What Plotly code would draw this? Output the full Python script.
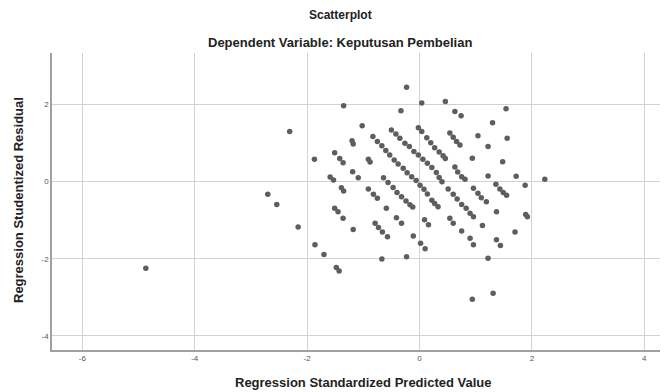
import plotly.graph_objects as go

# Regression Standardized Predicted Value (x) and Studentized Residual (y)
pred_x = [
    -4.87, -2.31, -2.70, -2.54, -2.16, -1.86, -1.70, -1.48, -1.43, -1.87,
    -1.59, -1.53, -1.39, -1.35, -1.35, -1.51, -1.42, -1.36, -1.20, -1.18,
    -1.02, -0.91, -0.88, -1.19, -1.09, -0.91, -0.82, -0.75, -1.51, -1.45,
    -1.36, -1.18, -0.79, -0.73, -0.66, -0.57, -0.59, -0.41, -0.32, -0.67,
    -0.23, -0.11, 0.02, 0.10, 0.09, 0.16, -0.23, 0.04, -0.33, 0.46,
    0.63, 0.74, 1.54, 1.30,
    # diagonal 1
    -0.50, -0.42, -0.35, -0.26, -0.18, -0.10, -0.02, 0.06, 0.14, 0.22, 0.30, 0.35, 0.40,
    # diagonal 2
    -0.83, -0.75, -0.67, -0.60, -0.53, -0.45, -0.38, -0.29, -0.22, -0.14, -0.06, 0.01,
    0.08, 0.14, 0.22, 0.27, 0.33,
    # diagonal 3
    -0.64, -0.56, -0.47, -0.40, -0.32, -0.24, -0.17, -0.12,
    # diagonal 4
    -0.02, 0.04, 0.13, 0.20, 0.27, 0.35, 0.42, 0.46,
    # diagonal 5
    0.54, 0.60, 0.66, 0.72,
    # diagonal 6
    0.63, 0.68, 0.75, 0.81,
    1.04, 1.56, 1.22, 0.94, 1.48, 1.22, 1.72, 1.88, 2.23,
    # diagonal 7
    0.51, 0.60, 0.67, 0.75, 0.83, 0.90, 0.96,
    # diagonal 8
    0.96, 1.04, 1.10, 1.19,
    # diagonal 9
    1.36, 1.43, 1.49, 1.55,
    1.37, 1.89, 1.92, 0.54, 0.60, 0.75, 1.12, 1.70, 0.90, 0.96,
    1.37, 1.44, 1.22, 0.94, 1.31,
]
resid_y = [
    -2.25, 1.30, -0.33, -0.59, -1.18, -1.64, -1.89, -2.23, -2.32, 0.58,
    0.12, 0.04, -0.16, -0.24, 1.97, 0.75, 0.60, 0.49, 1.06, 0.98,
    1.45, 0.58, 0.51, 0.26, 0.10, -0.19, -0.33, -0.43, -0.69, -0.78,
    -0.95, -1.24, -1.08, -1.19, -1.31, -1.43, -0.69, -0.94, -1.08, -2.01,
    -1.95, -1.41, -1.60, -1.74, -0.99, -1.12, 2.45, 2.04, 1.84, 2.08,
    1.82, 1.71, 1.89, 1.53,
    1.34, 1.24, 1.13, 1.00, 0.91, 0.78, 0.69, 0.58, 0.48, 0.37, 0.24, 0.11, 0.00,
    1.17, 1.04, 0.93, 0.81, 0.69, 0.56, 0.46, 0.35, 0.23, 0.13, 0.03, -0.09,
    -0.20, -0.32, -0.48, -0.57, -0.65,
    0.10, -0.02, -0.15, -0.28, -0.39, -0.50, -0.60, -0.66,
    1.40, 1.30, 1.14, 1.01, 0.88, 0.77, 0.67, 0.60,
    1.26, 1.15, 1.04, 0.95,
    0.38, 0.25, 0.13, 0.06,
    1.19, 1.13, 0.91, 0.61, 0.52, 0.15, 0.14, -0.09, 0.06,
    -0.19, -0.33, -0.45, -0.59, -0.69, -0.82, -0.91,
    -0.17, -0.30, -0.42, -0.52,
    -0.07, -0.19, -0.28, -0.35,
    -0.78, -0.85, -0.91, -0.95, -1.08, -1.28, -1.14, -1.31, -1.47, -1.64,
    -1.51, -1.66, -1.99, -3.05, -2.90,
]

x_ticks = [-6, -4, -2, 0, 2, 4]
y_ticks = [-4, -2, 0, 2]

title_text = "Scatterplot"
subtitle_text = "Dependent Variable: Keputusan Pembelian"
x_title = "Regression Standardized Predicted Value"
y_title = "Regression Studentized Residual"

FONT = "Liberation Sans, Arial, sans-serif"

W, H = 664, 392
L, R, T, B = 52, 4, 53, 42
PW, PH = W - L - R, H - T - B

fig = go.Figure(
    go.Scatter(
        x=pred_x, y=resid_y, mode="markers",
        marker=dict(color="#5e5e5e", size=5.5, line=dict(width=0)),
        hoverinfo="x+y",
    )
)

fig.update_layout(
    width=W, height=H,
    margin=dict(l=L, r=R, t=T, b=B),
    paper_bgcolor="white", plot_bgcolor="white",
    showlegend=False,
    font=dict(family=FONT, color="#222"),
    xaxis=dict(
        range=[-6.54, 4.28], tickvals=x_ticks, ticktext=[str(v) for v in x_ticks],
        showgrid=True, gridcolor="#d2d2d2", gridwidth=1, zeroline=False,
        showline=True, linecolor="#a0a0a0", linewidth=1.5,
        ticks="", tickfont=dict(size=8, color="#555"), fixedrange=True,
    ),
    yaxis=dict(
        range=[-4.37, 3.34], tickvals=y_ticks, ticktext=[str(v) for v in y_ticks],
        showgrid=True, gridcolor="#d2d2d2", gridwidth=1, zeroline=False,
        showline=True, linecolor="#a0a0a0", linewidth=1.5,
        ticks="", tickfont=dict(size=8, color="#555"), fixedrange=True,
    ),
    annotations=[
        dict(text="<b>" + title_text + "</b>", xref="paper", yref="paper",
             x=(340 - L) / PW, y=(H - B - 15) / PH, showarrow=False,
             xanchor="center", yanchor="middle", font=dict(size=12, color="#222")),
        dict(text="<b>" + subtitle_text + "</b>", xref="paper", yref="paper",
             x=(340 - L) / PW, y=(H - B - 42) / PH, showarrow=False,
             xanchor="center", yanchor="middle", font=dict(size=13, color="#222")),
        dict(text="<b>" + x_title + "</b>", xref="paper", yref="paper",
             x=(363 - L) / PW, y=(H - B - 382) / PH, showarrow=False,
             xanchor="center", yanchor="middle", font=dict(size=13, color="#222")),
        dict(text="<b>" + y_title + "</b>", xref="paper", yref="paper",
             x=(18 - L) / PW, y=(H - B - 200) / PH, showarrow=False, textangle=-90,
             xanchor="center", yanchor="middle", font=dict(size=13, color="#222")),
    ],
)

fig.write_html(
    "out.html",
    config={"displayModeBar": False},
    post_script="document.body.style.margin='0';",
)
